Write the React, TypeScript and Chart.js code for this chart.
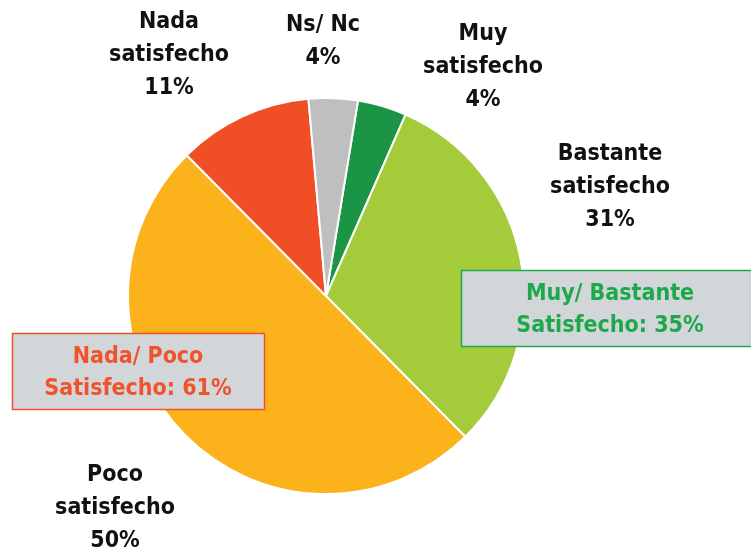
import React, { useEffect, useRef } from "react";
import { Chart, registerables } from "chart.js";

Chart.register(...registerables);

const categories = ["Muy satisfecho", "Bastante satisfecho", "Poco satisfecho", "Nada satisfecho", "Ns/ Nc"];
const values = [4, 31, 50, 11, 4];
const sliceColors = ["#1B9445", "#A4CC3A", "#FCB21A", "#F04F26", "#BDBFC1"];
const labelLines = [
  ["Muy", "satisfecho"],
  ["Bastante", "satisfecho"],
  ["Poco", "satisfecho"],
  ["Nada", "satisfecho"],
  ["Ns/ Nc"],
];
const groupTexts = [
  ["Muy/ Bastante", "Satisfecho: 35%"],
  ["Nada/ Poco", "Satisfecho: 61%"],
];

// annotation layout (text anchor centers, first line y)
const labelAnchors = [
  { x: 483, y: 34 },
  { x: 610, y: 154 },
  { x: 115, y: 475 },
  { x: 169, y: 22 },
  { x: 323, y: 25 },
];
const boxLayout = [
  { x: 461, y: 270, w: 300, h: 77, color: "#1EA84C", textX: 610 },
  { x: 12, y: 333, w: 253, h: 77, color: "#F0522C", textX: 138 },
];

const FONT = "bold 23px 'DejaVu Sans Condensed', 'DejaVu Sans', sans-serif";
const LINE_H = 33;

const annotations = {
  id: "annotations",
  afterDraw(chart: any) {
    const ctx = chart.ctx as CanvasRenderingContext2D;
    ctx.save();
    ctx.font = FONT;
    ctx.textAlign = "center";
    ctx.textBaseline = "middle";
    ctx.fillStyle = "#111111";
    labelLines.forEach((lines, i) => {
      const a = labelAnchors[i];
      const all = [...lines, values[i] + "%"];
      all.forEach((t, j) => ctx.fillText(t, a.x, a.y + j * LINE_H));
    });
    boxLayout.forEach((b, i) => {
      ctx.fillStyle = "#D3D6D9";
      ctx.fillRect(b.x, b.y, b.w, b.h);
      ctx.strokeStyle = b.color;
      ctx.lineWidth = 1.5;
      ctx.strokeRect(b.x + 0.5, b.y + 0.5, b.w - 1, b.h - 1);
      ctx.fillStyle = b.color;
      groupTexts[i].forEach((t, j) => ctx.fillText(t, b.textX, b.y + 24 + j * 32));
    });
    ctx.restore();
  },
};

export default function App() {
  const ref = useRef<HTMLCanvasElement>(null);
  useEffect(() => {
    const chart = new Chart(ref.current!, {
      type: "pie",
      data: {
        labels: categories,
        datasets: [
          {
            data: values,
            backgroundColor: sliceColors,
            borderColor: "#FFFFFF",
            borderWidth: 2,
          },
        ],
      },
      options: {
        animation: false,
        responsive: false,
        rotation: 9.3,
        layout: { padding: { top: 97, bottom: 57, left: 127, right: 226 } },
        plugins: { legend: { display: false }, tooltip: { enabled: false } },
      },
      plugins: [annotations],
    });
    return () => chart.destroy();
  }, []);
  return (
    <div style={{ position: "fixed", left: 0, top: 0, width: 751, height: 552, background: "#fff" }}>
      <canvas ref={ref} width={751} height={552} style={{ width: 751, height: 552, display: "block" }} />
    </div>
  );
}
